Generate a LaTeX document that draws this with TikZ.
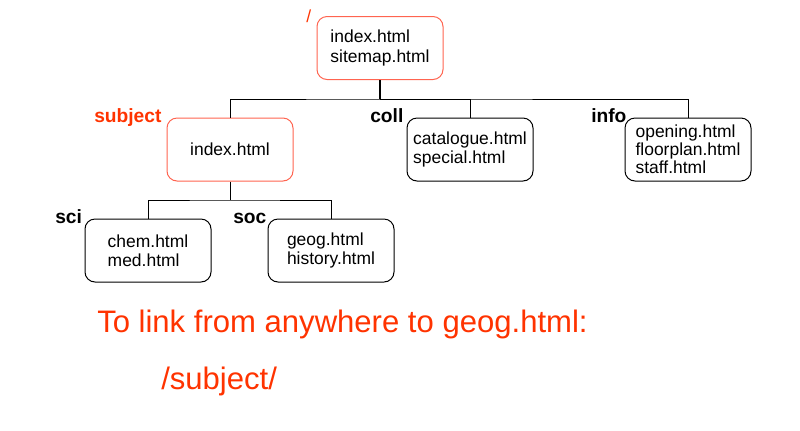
\documentclass[tikz,border=0pt]{standalone}
\usepackage{fontspec}
\setmainfont{Liberation Sans}
\definecolor{boxred}{RGB}{255,100,80}
\definecolor{txtred}{RGB}{255,51,0}
\begin{document}
\begin{tikzpicture}[x=0.75pt,y=-0.75pt,
  filebox/.style={draw=black,line width=0.75pt,rounded corners=7.5pt,
    minimum width=94.5pt,minimum height=47.25pt,align=left,inner sep=0pt,
    font=\fontsize{13.1}{14.3}\selectfont},
  redbox/.style={filebox,draw=boxred},
  dirlabel/.style={anchor=base west,inner sep=0pt,font=\fontsize{14.4}{16}\selectfont\bfseries},
  bigred/.style={anchor=base west,inner sep=0pt,text=txtred,font=\fontsize{23.3}{26}\selectfont},
  conn/.style={line width=0.75pt}]
\useasboundingbox (0,0) rectangle (800,430);
% boxes
\node[redbox] (root) at (380,48) {index.html\\sitemap.html};
\node[redbox] (subj) at (230,149.5) {index.html};
\node[filebox] (coll) at (470,149.5) {catalogue.html\\special.html};
\node[filebox,font=\fontsize{13.1}{13.5}\selectfont] (info) at (688,149.5) {opening.html\\floorplan.html\\staff.html};
\node[filebox] (sci) at (148,250.5) {chem.html\\med.html};
\node[filebox] (soc) at (331,250.5) {geog.html\\history.html};
% labels
\node[anchor=base west,inner sep=0pt,text=txtred,font=\fontsize{13.1}{14}\selectfont] (lroot) at (306,22) {/};
\node[dirlabel,text=txtred] (lsubj) at (94,122) {subject};
\node[dirlabel] (lcoll) at (370,122) {coll};
\node[dirlabel] (linfo) at (591,122) {info};
\node[dirlabel] (lsci) at (55,223) {sci};
\node[dirlabel] (lsoc) at (233,223) {soc};
% connectors
\coordinate (h1) at (380,99);
\coordinate (h2) at (230,200);
\draw[line width=1.5pt] (root.south) -- (h1);
\draw[conn] (subj.north) |- (h1) -| (info.north);
\draw[conn] (h1) -| (coll.north);
\draw[conn] (subj.south) -- (h2);
\draw[conn] (sci.north) |- (h2) -| (soc.north);
% bottom text
\node[bigred] (t1) at (97,332) {To link from anywhere to geog.html:};
\node[bigred] (t2) at (161,389) {/subject/};
\end{tikzpicture}
\end{document}
